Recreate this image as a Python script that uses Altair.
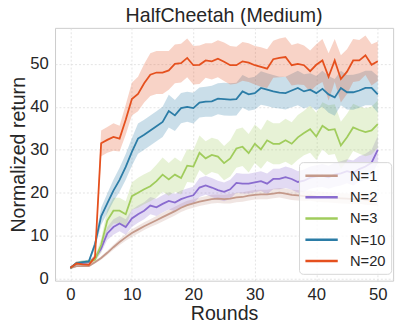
import altair as alt
import pandas as pd

rounds = list(range(51))
series_names = ["N=1", "N=2", "N=3", "N=10", "N=20"]
series_colors = ["#c4998a", "#8a6ccf", "#a0cc5c", "#2b7ca6", "#e5501e"]

mean_n1 = [2.4, 2.9, 2.9, 2.9, 3.8, 4.8, 6.0, 7.3, 8.5, 9.6,
           10.6, 11.4, 12.2, 12.9, 13.6, 14.3, 15.0, 15.7, 16.5, 17.1,
           17.5, 17.9, 18.2, 18.5, 18.6, 18.5, 18.6, 18.9, 19.0, 19.3,
           19.5, 19.6, 19.6, 19.8, 20.0, 19.8, 19.5, 19.4, 19.2, 19.3,
           19.1, 19.0, 18.9, 18.8, 18.7, 18.6, 18.5, 18.6, 18.4, 18.3, 18.2]
sd_n1 = [0.2, 0.2, 0.2, 0.2, 0.3, 0.4, 0.5, 0.6, 0.7, 0.8,
         0.9, 0.9, 0.9, 0.9, 1.0, 1.0, 1.0, 1.0, 1.0, 1.0,
         1.0, 1.0, 1.0, 1.0, 1.0, 1.0, 1.1, 1.1, 1.1, 1.1,
         1.1, 1.1, 1.1, 1.1, 1.1, 1.2, 1.2, 1.2, 1.2, 1.2,
         1.2, 1.2, 1.2, 1.2, 1.2, 1.2, 1.2, 1.2, 1.2, 1.2, 1.2]

mean_n2 = [2.4, 3.6, 3.6, 3.8, 4.8, 7.0, 10.5, 12.0, 12.8, 12.0,
           14.0, 15.0, 15.8, 17.0, 16.6, 17.4, 18.1, 17.7, 18.5, 19.0,
           19.4, 21.2, 21.7, 21.2, 20.6, 20.2, 20.8, 22.3, 22.1, 22.1,
           22.4, 22.7, 22.1, 23.2, 23.2, 23.6, 23.2, 22.5, 22.8, 23.5,
           23.8, 24.0, 23.6, 24.2, 24.5, 25.0, 24.6, 25.5, 26.1, 27.0, 30.0]
sd_n2 = [0.3, 0.3, 0.3, 0.3, 0.6, 1.0, 1.5, 1.8, 1.8, 1.8,
         2.0, 2.0, 2.0, 2.0, 2.0, 2.0, 2.0, 2.0, 2.0, 2.0,
         2.0, 2.2, 2.2, 2.2, 2.2, 2.2, 2.2, 2.3, 2.3, 2.3,
         2.3, 2.3, 2.4, 2.4, 2.4, 2.5, 2.5, 2.5, 2.6, 2.6,
         2.6, 2.7, 2.7, 2.8, 2.8, 2.8, 2.9, 3.0, 3.0, 3.0, 3.2]

mean_n3 = [2.4, 3.6, 3.8, 4.0, 4.4, 7.8, 13.5, 15.8, 15.8, 15.0,
           19.2, 20.0, 20.8, 21.5, 22.7, 24.2, 23.1, 24.2, 23.4, 26.3,
           26.1, 29.3, 28.0, 28.8, 28.4, 26.9, 28.0, 30.3, 30.7, 29.2,
           31.4, 30.1, 32.2, 31.4, 31.4, 32.2, 31.4, 32.9, 33.9, 34.8,
           33.1, 35.6, 34.6, 34.8, 31.0, 32.9, 35.2, 34.6, 34.1, 34.5, 36.0]
sd_n3 = [0.3, 0.4, 0.4, 0.4, 0.8, 1.5, 2.5, 3.0, 3.0, 3.0,
         3.2, 3.5, 3.5, 3.5, 3.8, 4.0, 3.8, 4.0, 3.8, 3.8,
         3.8, 4.0, 4.0, 4.0, 4.0, 4.0, 4.2, 4.5, 4.5, 4.5,
         4.5, 4.5, 4.8, 4.8, 4.8, 5.0, 5.0, 5.2, 5.2, 5.5,
         5.5, 5.5, 5.8, 5.8, 5.5, 5.5, 5.5, 5.5, 5.6, 5.6, 5.5]

mean_n10 = [2.5, 3.6, 3.8, 4.0, 8.0, 14.5, 17.5, 20.5, 23.0, 26.0,
            29.5, 32.6, 33.5, 34.5, 35.5, 36.5, 39.0, 38.0, 39.7, 40.0,
            39.7, 41.0, 41.2, 41.3, 41.9, 41.8, 41.7, 41.8, 43.6, 42.9,
            43.2, 44.4, 44.0, 43.6, 43.3, 43.2, 43.8, 44.4, 43.6, 44.0,
            43.2, 44.2, 42.9, 42.2, 44.4, 43.4, 43.4, 43.8, 44.4, 44.4, 42.9]
sd_n10 = [0.3, 0.4, 0.4, 0.4, 1.0, 2.0, 2.3, 2.5, 2.8, 3.0,
          3.2, 3.5, 3.5, 3.5, 3.5, 3.5, 3.8, 3.6, 3.5, 3.5,
          3.6, 3.5, 3.5, 3.6, 3.6, 3.8, 3.8, 3.8, 3.8, 3.8,
          3.8, 3.9, 3.8, 3.8, 3.7, 3.8, 3.9, 4.0, 4.0, 3.8,
          4.0, 4.2, 4.3, 4.3, 4.0, 4.0, 4.1, 4.0, 4.0, 4.0, 4.3]

mean_n20 = [2.5, 3.5, 3.3, 3.2, 5.0, 31.5, 32.3, 33.0, 32.6, 37.0,
            41.8, 43.0, 45.5, 47.5, 48.0, 48.0, 48.5, 50.0, 50.2, 51.4,
            49.7, 49.8, 50.8, 50.6, 51.2, 50.5, 49.7, 49.7, 50.6, 50.3,
            49.7, 49.3, 48.9, 51.1, 51.4, 51.6, 49.7, 50.0, 49.7, 48.3,
            49.8, 50.8, 47.0, 50.8, 46.5, 48.2, 50.8, 50.8, 52.0, 49.8, 50.6]
sd_n20 = [0.3, 0.4, 0.4, 0.4, 0.8, 3.0, 3.0, 3.2, 3.0, 3.5,
          3.8, 4.0, 4.5, 5.0, 5.0, 5.0, 4.5, 4.5, 4.5, 4.5,
          4.5, 4.5, 4.0, 4.2, 4.3, 4.5, 4.5, 4.3, 4.5, 4.5,
          4.5, 4.6, 4.5, 4.3, 4.5, 4.6, 4.7, 4.8, 4.6, 4.8,
          4.8, 5.0, 5.5, 5.0, 5.5, 5.2, 5.0, 4.8, 4.6, 4.8, 4.6]

x_ticks = [0, 10, 20, 30, 40, 50]
y_ticks = [0, 10, 20, 30, 40, 50]

means = [mean_n1, mean_n2, mean_n3, mean_n10, mean_n20]
sds = [sd_n1, sd_n2, sd_n3, sd_n10, sd_n20]

rows = []
for k, name in enumerate(series_names):
    for i, r in enumerate(rounds):
        m = means[k][i]
        s = sds[k][i]
        rows.append({"series": name, "round": r, "mean": m,
                     "lo": m - s, "hi": m + s})
df = pd.DataFrame(rows)

FONT = "Liberation Sans"
TXT = "#262626"

xscale = alt.Scale(domain=[-2.5, 52.5], nice=False, zero=False)
yscale = alt.Scale(domain=[-0.5, 58.4], nice=False, zero=False)
cscale = alt.Scale(domain=series_names, range=series_colors)
legend = alt.Legend(
    title=None, orient="none", legendX=249, legendY=137,
    symbolType="M-1,0H3.4", symbolStrokeWidth=2.5, symbolSize=225,
    symbolFillColor="transparent",
    labelFontSize=15, labelFont=FONT, labelColor=TXT,
    fillColor="rgba(255,255,255,0.8)", strokeColor="#d6d6d6",
    cornerRadius=4, padding=5, rowPadding=4.75, labelOffset=29,
)

x = alt.X("round:Q", scale=xscale,
          axis=alt.Axis(values=x_ticks, title="Rounds", labelPadding=6,
                        titlePadding=2))
y = alt.Y("mean:Q", scale=yscale,
          axis=alt.Axis(values=y_ticks, title="Normalized return",
                        labelPadding=7, titlePadding=1))

band = alt.Chart(df).mark_area(opacity=0.25, interpolate="linear").encode(
    x=x, y=alt.Y("lo:Q", scale=yscale), y2="hi:Q",
    color=alt.Color("series:N", scale=cscale, legend=None),
    detail="series:N",
)
line = alt.Chart(df).mark_line(strokeWidth=1.8).encode(
    x=x, y=y, color=alt.Color("series:N", scale=cscale, legend=legend),
    order="round:Q",
)

chart = alt.layer(band, line).resolve_legend(color="independent").properties(
    width=345, height=258,
    background="white",
    title=alt.Title("HalfCheetah (Medium)", fontSize=20, font=FONT,
                    fontWeight="normal", color=TXT, offset=2),
    autosize=alt.AutoSizeParams(type="none"),
    padding={"left": 48, "top": 17, "right": 6, "bottom": 45},
).configure_view(
    stroke="#cccccc", strokeWidth=1, fill="white",
).configure_axis(
    domain=False, ticks=False, grid=True, gridColor="#dcdcdc",
    gridDash=[2, 2], gridWidth=0.8,
    labelFont=FONT, labelFontSize=17, labelColor=TXT,
    titleFont=FONT, titleFontSize=20, titleColor=TXT, titleFontWeight="normal",
)

chart.save("out.html", embed_options={"renderer": "svg", "actions": False})
